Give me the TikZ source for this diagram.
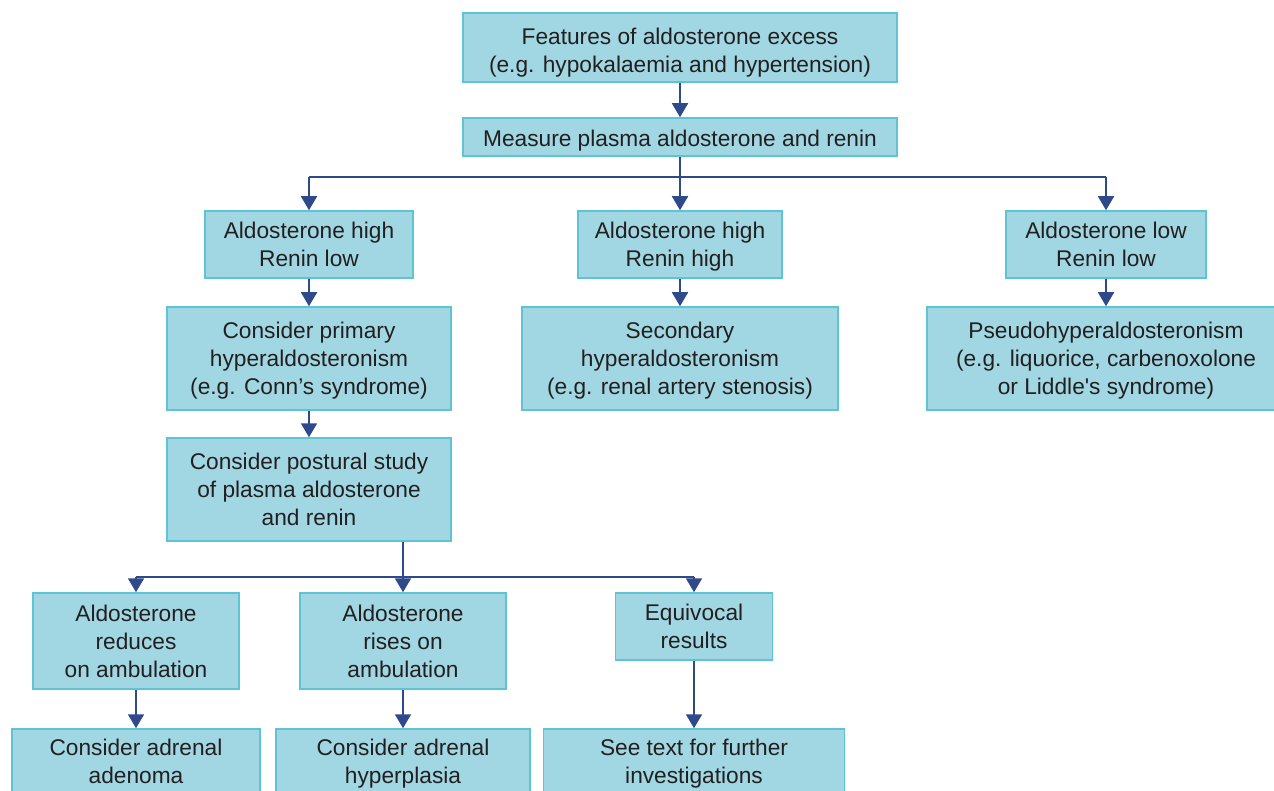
\documentclass[tikz,border=0pt]{standalone}
\usepackage{fontspec}
\newfontfamily\mf{Liberation Sans}
\usetikzlibrary{arrows.meta}
\definecolor{boxfill}{HTML}{A0D7E2}
\definecolor{boxedge}{HTML}{5FC3D4}
\definecolor{arrowc}{HTML}{2E4A8B}
\definecolor{txt}{HTML}{231F20}
\newcommand\bt[2][-2.5pt]{\raisebox{#1}[\height][\depth]{\begin{tabular}{@{}c@{}}#2\end{tabular}}}
\tikzset{
  bx/.style={rectangle, fill=boxfill, draw=boxedge, line width=1.5pt, inner sep=0pt, text=txt, font=\mf\fontsize{22.7}{28}\selectfont},
  ln/.style={draw=arrowc, line width=1.8pt},
  arr/.style={ln, -{Triangle[width=16pt,length=14pt]}}
}
\begin{document}
\begin{tikzpicture}[x=1pt,y=-1pt]
\useasboundingbox (0,0) rectangle (1274,791);
\node[bx, minimum width=434pt, minimum height=69pt] (feat) at (680,47.5) {\bt[-5pt]{Features of aldosterone excess\\(e.g. hypokalaemia and hypertension)}};
\node[bx, minimum width=434pt, minimum height=38pt] (meas) at (680,137) {\bt[-3.5pt]{Measure plasma aldosterone and renin}};
\node[bx, minimum width=208pt, minimum height=67pt] (ahrl) at (309,244.5) {\bt{Aldosterone high\\Renin low}};
\node[bx, minimum width=204pt, minimum height=67pt] (ahrh) at (680,244.5) {\bt{Aldosterone high\\Renin high}};
\node[bx, minimum width=200pt, minimum height=67pt] (alrl) at (1106,244.5) {\bt{Aldosterone low\\Renin low}};
\node[bx, minimum width=284pt, minimum height=103pt] (prim) at (309,358.5) {\bt{Consider primary\\hyperaldosteronism\\(e.g. Conn’s syndrome)}};
\node[bx, minimum width=316pt, minimum height=103pt] (sec) at (680,358.5) {\bt{Secondary\\hyperaldosteronism\\(e.g. renal artery stenosis)}};
\node[bx, minimum width=358pt, minimum height=103pt] (pseudo) at (1106,358.5) {\bt{Pseudohyperaldosteronism\\(e.g. liquorice, carbenoxolone\\or Liddle's syndrome)}};
\node[bx, minimum width=284pt, minimum height=103pt] (post) at (309,489.5) {\bt{Consider postural study\\of plasma aldosterone\\and renin}};
\node[bx, minimum width=206pt, minimum height=96pt] (red) at (136,641) {\bt{Aldosterone\\reduces\\on ambulation}};
\node[bx, minimum width=206pt, minimum height=96pt] (rise) at (403,641) {\bt{Aldosterone\\rises on\\ambulation}};
\node[bx, minimum width=157pt, minimum height=67pt] (equiv) at (694,626.5) {\bt{Equivocal\\results}};
\node[bx, minimum width=248pt, minimum height=67pt] (aden) at (136,762.5) {\bt[-1.5pt]{Consider adrenal\\adenoma}};
\node[bx, minimum width=254pt, minimum height=67pt] (hyper) at (403,762.5) {\bt[-1.5pt]{Consider adrenal\\hyperplasia}};
\node[bx, minimum width=301pt, minimum height=67pt] (see) at (694,762.5) {\bt[-1.5pt]{See text for further\\investigations}};
\coordinate (b1) at (680,177);
\coordinate (b2) at (403,577);
\draw[arr] (feat) -- (meas);
\draw[ln] (meas) -- (b1);
\draw[ln] (ahrl.north |- b1) -- (alrl.north |- b1);
\draw[arr] (ahrl.north |- b1) -- (ahrl);
\draw[arr] (b1) -- (ahrh);
\draw[arr] (alrl.north |- b1) -- (alrl);
\draw[arr] (ahrl) -- (prim);
\draw[arr] (ahrh) -- (sec);
\draw[arr] (alrl) -- (pseudo);
\draw[arr] (prim) -- (post);
\draw[ln] (post.south -| b2) -- (b2);
\draw[ln] (red.north |- b2) -- (equiv.north |- b2);
\draw[arr] (red.north |- b2) -- (red);
\draw[arr] (b2) -- (rise);
\draw[arr] (equiv.north |- b2) -- (equiv);
\draw[arr] (red) -- (aden);
\draw[arr] (rise) -- (hyper);
\draw[arr] (equiv) -- (see);
\end{tikzpicture}
\end{document}
